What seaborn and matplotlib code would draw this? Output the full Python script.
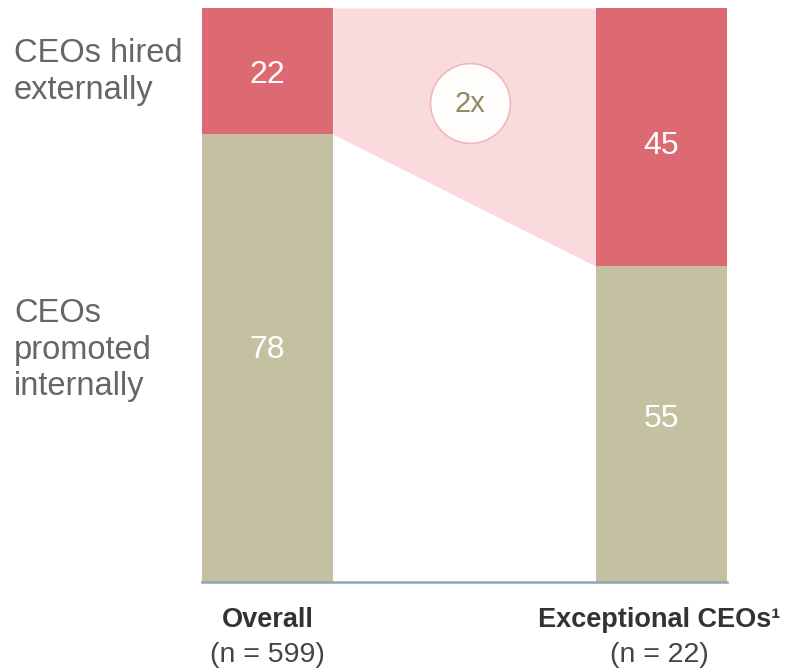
import matplotlib
matplotlib.use("Agg")
import matplotlib.pyplot as plt
import seaborn as sns
import pandas as pd

# donnees (en %)
groups = ["Overall", "Exceptional CEOs¹"]
sizes = ["(n = 599)", "(n = 22)"]
external = [22, 45]
internal = [78, 55]
ratio_label = "2x"

red = "#DD6A72"
khaki = "#C4C1A2"
pink = "#F9DADD"

sns.set_theme(style="white")
plt.rcParams["font.family"] = ["Liberation Sans", "DejaVu Sans"]

W, H = 786, 672
fig = plt.figure(figsize=(W / 100, H / 100), dpi=100)
w = 131 / 394  # largeur des barres, en unites de categorie
ax = fig.add_axes([202 / W, 1 - 582 / H, 525 / W, 574 / H])

df = pd.DataFrame({"group": groups,
                   "total": [e + i for e, i in zip(external, internal)],
                   "internal": internal})

# barres empilees : total en rouge, puis interne en kaki par-dessus
sns.barplot(data=df, x="group", y="total", color=red, width=w,
            saturation=1, linewidth=0, ax=ax)
sns.barplot(data=df, x="group", y="internal", color=khaki, width=w,
            saturation=1, linewidth=0, ax=ax)

# zone de liaison entre les deux parts "externes"
top = [e + i for e, i in zip(external, internal)]
ax.fill_between([w / 2, 1 - w / 2], internal, top, color=pink, linewidth=0, zorder=0)

# cercle "2x"
ax.scatter([0.514], [83.5], s=3300, color="#FFFCFC", edgecolor="#F0B8BD",
           linewidth=1.2, zorder=5)
ax.text(0.514, 83.3, ratio_label, ha="center", va="center", fontsize=21,
        color="#8C8A5E", zorder=6)

# valeurs (legerement decalees vers le bas, comme l'original)
for i, (e, n) in enumerate(zip(external, internal)):
    ax.text(i, n + e / 2 - 0.7 - i * 0.8, str(e), ha="center", va="center",
            color="white", fontsize=23)
    ax.text(i, n / 2 + 1.4 - i * 0.5, str(n), ha="center", va="center",
            color="white", fontsize=23)

ax.set_xlim(-w / 2, 1 + w / 2)
ax.set_ylim(0, 100)
ax.set_xlabel("")
ax.set_ylabel("")
ax.set_xticks([])
ax.set_yticks([])
for s in ["top", "left", "right"]:
    ax.spines[s].set_visible(False)
ax.spines["bottom"].set_color("#8FA5B4")
ax.spines["bottom"].set_linewidth(1.8)

# libelles des segments
fig.text(14 / W, 1 - 72 / H, "CEOs hired\nexternally", ha="left", va="center",
         fontsize=23.5, color="#666666", linespacing=1.22)
fig.text(14 / W, 1 - 350 / H, "CEOs\npromoted\ninternally", ha="left", va="center",
         fontsize=23.5, color="#666666", linespacing=1.22)

# libelles des groupes
for cx, g, n in zip([267.5, 659], groups, sizes):
    fig.text(cx / W, 1 - 620 / H, g, ha="center", va="center", fontsize=19.5,
             color="#333333", fontweight="semibold")
    fig.text(cx / W, 1 - 655 / H, n, ha="center", va="center", fontsize=20.5,
             color="#444444")

fig.savefig("out.png", dpi=100)
